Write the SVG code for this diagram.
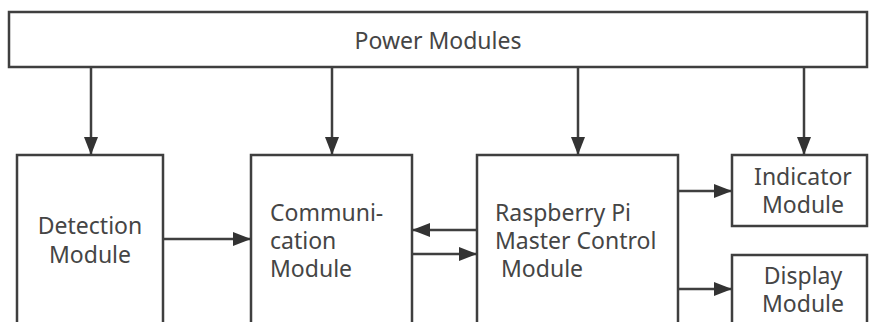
<svg xmlns="http://www.w3.org/2000/svg" width="872" height="322" viewBox="0 0 872 322">
<defs>
<style>
.box{fill:#fff;stroke:#3f3f3f;stroke-width:2.5}
.t{font-family:"Noto Sans","Open Sans",sans-serif;font-size:23px;fill:#454545}
.c{text-anchor:middle}
.ln{stroke:#3f3f3f;stroke-width:2.5;fill:none;marker-end:url(#ah)}
</style>
<marker id="ah" markerWidth="18" markerHeight="14" refX="18" refY="7" orient="auto" markerUnits="userSpaceOnUse">
<path d="M0,0 L18,7 L0,14 Z" fill="#333"/>
</marker>
</defs>
<rect width="872" height="322" fill="#fff"/>
<g id="power"><rect class="box" x="9" y="12" width="858" height="55"/><text class="t c" x="438" y="49">Power Modules</text></g>
<g id="detection"><rect class="box" x="17" y="155" width="146" height="180"/><text class="t c" x="90" y="234">Detection</text><text class="t c" x="90" y="263">Module</text></g>
<g id="communication"><rect class="box" x="251" y="155" width="161" height="180"/><text class="t" x="270" y="221">Communi-</text><text class="t" x="270" y="249">cation</text><text class="t" x="270" y="277">Module</text></g>
<g id="raspberry"><rect class="box" x="477" y="155" width="201" height="180"/><text class="t" x="495" y="221">Raspberry Pi</text><text class="t" x="495" y="249">Master Control</text><text class="t" x="501" y="277">Module</text></g>
<g id="indicator"><rect class="box" x="732" y="155" width="135" height="71"/><text class="t c" x="803" y="185">Indicator</text><text class="t c" x="803" y="213">Module</text></g>
<g id="display"><rect class="box" x="732" y="255" width="135" height="80"/><text class="t c" x="803" y="284">Display</text><text class="t c" x="803" y="312">Module</text></g>
<g id="connectors">
<line class="ln" x1="91" y1="67" x2="91" y2="155"/>
<line class="ln" x1="332" y1="67" x2="332" y2="155"/>
<line class="ln" x1="578" y1="67" x2="578" y2="155"/>
<line class="ln" x1="804" y1="67" x2="804" y2="155"/>
<line class="ln" x1="163" y1="239" x2="251" y2="239"/>
<line class="ln" x1="477" y1="230" x2="412" y2="230"/>
<line class="ln" x1="412" y1="254" x2="477" y2="254"/>
<line class="ln" x1="678" y1="191" x2="732" y2="191"/>
<line class="ln" x1="678" y1="289" x2="732" y2="289"/>
</g>
</svg>
